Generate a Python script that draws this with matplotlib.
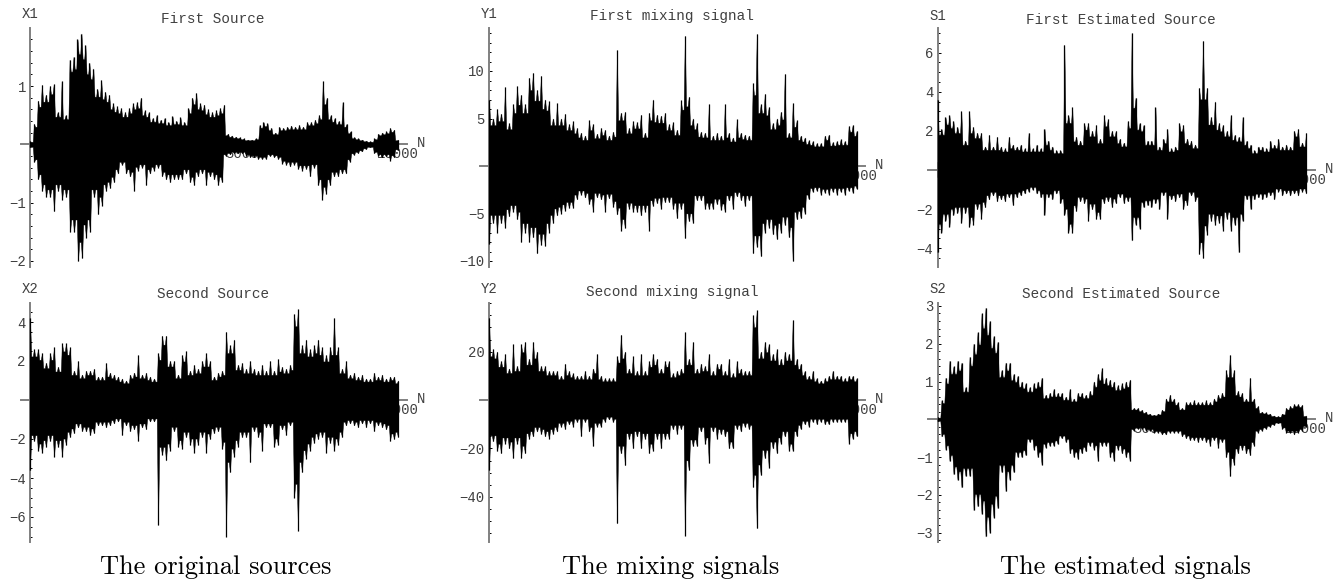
import numpy as np
import matplotlib
matplotlib.use("Agg")
import matplotlib.pyplot as plt
from matplotlib.ticker import MultipleLocator

x1_upper = [.05,.35,.75,1.02,.85,1.0,1.03,.55,1.08,.5,1.45,1.5,1.8,1.9,1.7,1.4,1.3,.95,1.1,.9,.85,.7,.65,.62,.55,.62,.7,.72,.8,.58,.55,.45,.5,.42,.45,.38,.48,.4,.46,.38,.62,.8,.88,.7,.68,.6,.55,.58,.62,.68,.18,.15,.13,.12,.1,.08,.08,.1,.33,.38,.36,.28,.2,.3,.28,.3,.32,.3,.33,.3,.38,.38,.42,.5,1.08,.8,.5,.45,.4,.72,.35,.22,.12,.1,.08,.06,.05,.1,.18,.2,.22,.28,.25,.08]
x1_lower = [-.05,-.3,-.6,-.8,-.9,-.9,-1.15,-.8,-.95,-.9,-1.5,-1.5,-2.0,-1.95,-1.6,-1.5,-.9,-1.2,-1.05,-.8,-.75,-.65,-.5,-.35,-.5,-.55,-.8,-.45,-.4,-.7,-.5,-.45,-.4,-.55,-.6,-.65,-.6,-.6,-.6,-.5,-.65,-.7,-.55,-.5,-.7,-.55,-.6,-.7,-.65,-.2,-.17,-.15,-.15,-.15,-.2,-.22,-.22,-.25,-.25,-.25,-.2,-.22,-.25,-.33,-.35,-.38,-.35,-.42,-.45,-.42,-.55,-.4,-.7,-.95,-.85,-.7,-.55,-.55,-.5,-.5,-.3,-.18,-.15,-.12,-.08,-.05,-.15,-.2,-.22,-.2,-.28,-.22,-.1]
x2_upper = [4.2,2.6,2.6,2.4,1.9,2.4,2.7,1.7,2.9,2.9,2.7,1.5,2.0,1.3,1.5,1.5,1.6,1.2,1.2,1.9,1.4,1.3,1.2,1.1,1.0,1.3,1.4,2.3,1.3,1.4,1.2,1.1,2.4,3.3,3.3,2.0,2.0,1.3,2.3,2.5,1.5,1.8,1.6,2.0,2.4,2.0,1.2,1.4,1.5,3.5,2.8,3.1,1.8,1.9,1.6,2.0,1.6,1.5,1.8,1.5,2.0,1.5,2.1,1.7,1.6,1.8,4.4,4.65,2.8,3.1,2.6,2.8,3.1,2.7,2.3,2.7,4.2,2.7,1.6,2.0,1.3,1.4,1.2,1.3,1.1,1.1,1.4,1.2,1.3,1.1,1.2,1.2,1.0]
x2_lower = [-3.6,-2.1,-2.6,-2.7,-2.4,-2.1,-2.9,-2.4,-2.9,-2.3,-1.9,-1.7,-1.4,-1.6,-1.6,-1.8,-1.7,-1.3,-1.3,-1.4,-1.3,-1.2,-1.1,-1.8,-1.3,-1.6,-1.5,-2.1,-1.4,-1.5,-1.1,-1.1,-6.4,-2.8,-3.1,-2.6,-1.6,-2.4,-2.5,-1.9,-2.3,-2.7,-2.3,-1.9,-2.7,-2.0,-1.7,-1.6,-2.5,-7.0,-3.7,-2.9,-2.4,-1.9,-1.9,-3.2,-1.6,-1.9,-2.6,-1.4,-1.4,-2.4,-2.3,-1.5,-1.8,-1.3,-5.0,-6.7,-3.7,-3.0,-2.6,-2.2,-2.0,-1.9,-2.7,-2.2,-2.6,-2.3,-1.9,-1.3,-1.2,-1.3,-1.4,-1.2,-1.4,-1.2,-1.6,-1.3,-1.4,-1.5,-2.1,-2.0,-1.9]
y1_upper = [7.0,5.0,6.0,5.5,8.3,4.5,6.5,8.4,7.5,6.5,9.3,9.8,8.0,9.5,7.0,6.8,5.0,6.6,5.0,5.5,4.4,4.7,4.0,3.5,3.2,4.8,4.4,3.4,4.0,3.8,3.2,3.6,12.2,5.6,5.7,4.0,4.7,4.6,5.4,3.5,5.6,7.0,5.4,5.3,5.6,4.4,4.6,3.8,6.9,13.7,7.3,5.0,4.5,3.6,3.5,6.5,3.2,3.5,3.2,6.5,3.5,3.0,4.9,3.5,3.3,3.2,8.7,13.9,6.5,7.6,6.2,4.5,5.0,5.7,9.7,3.5,6.6,4.8,3.2,3.0,2.7,2.6,2.4,2.4,3.2,3.3,2.5,2.6,2.8,2.6,4.2,4.3,3.7]
y1_lower = [-8.2,-6,-7,-6,-6.5,-5.3,-4.8,-5.6,-8,-7,-8,-7.5,-9.2,-8.3,-8.4,-7,-6,-5.2,-5,-4.7,-4.4,-4.4,-3.5,-3,-3.3,-4,-4.8,-3.3,-3.5,-4.8,-3.4,-4.3,-5.1,-6.8,-6.5,-4.5,-4.8,-4.8,-5.2,-4.8,-6.8,-4.2,-3.9,-4.5,-3.8,-3.8,-4.5,-5.5,-4.5,-7.6,-5.8,-6.0,-3.6,-3.6,-4.5,-4.5,-4.5,-4.0,-4.6,-4.8,-3.6,-4.5,-3.2,-3.6,-4.2,-3.6,-9.2,-8.5,-9.5,-7,-6.5,-7.2,-7.7,-7,-6.2,-7.5,-10,-5.6,-5.5,-5,-3.5,-2.7,-2.6,-3.0,-2.8,-3.0,-2.7,-3.0,-2.7,-3.0,-2.6,-2.8,-2.4]
y2_upper = [34,21,20,16,19,13,23,14,23,24,17,24,20,14,14,12,12,12,10,15,12,11,10,10,12,10,13,19,10,9,9,9,18,27,20,13,18,12,19,12,16,19,17,13,16,16,11,12,13,28,17,24,13,15,14,19,12,15,15,12,17,11,16,13,12,12,35,37,20,24,23,19,21,17,20,19,33,17,15,12,10,12,9,8,9,10,12,10,10,9,10,10,9]
y2_lower = [-29,-17,-21,-22,-18,-20,-24,-18,-24,-22,-16,-15,-13,-14,-15,-16,-14,-13,-11,-12,-10,-11,-9,-15,-9,-13,-19,-11,-11,-9,-8,-9,-51,-22,-27,-16,-20,-15,-20,-16,-22,-21,-16,-20,-16,-16,-12,-14,-12,-56,-29,-19,-19,-13,-18,-26,-13,-16,-14,-15,-20,-20,-12,-13,-11,-12,-36,-53,-31,-24,-28,-20,-22,-18,-15,-21,-21,-15,-12,-10,-11,-9,-10,-9,-10,-10,-9,-9,-9,-9,-18,-16,-15]
s1_upper = [3.6,2.1,2.7,2.8,2.5,2.2,3.0,1.5,3.0,2.2,1.9,1.9,1.2,1.8,1.2,1.7,1.2,1.1,1.7,1.3,1.2,1.3,1.1,1.9,1.1,1.3,1.1,2.1,1.5,1.2,1.0,1.0,6.4,2.8,3.2,1.7,1.5,2.4,2.4,2.0,2.3,1.6,2.8,2.6,2.0,2.0,1.6,1.4,2.5,7.0,3.7,2.4,2.3,1.5,1.5,3.2,1.2,1.6,2.1,1.1,1.2,2.4,2.3,1.6,1.5,1.3,4.2,6.6,4.2,2.7,3.5,2.4,2.3,2.0,2.8,1.8,1.7,2.7,1.5,1.3,1.0,1.2,1.2,1.1,1.5,1.3,1.6,1.2,1.3,1.2,2.0,2.1,1.4,1.9]
s1_lower = [-4.2,-3.2,-2.6,-2.9,-2.3,-2.2,-2.7,-2.2,-2.9,-2.8,-2.0,-2.5,-1.9,-1.5,-1.3,-1.6,-1.5,-1.6,-1.4,-1.8,-1.4,-1.3,-1.2,-1.1,-1.0,-1.2,-1.4,-2.3,-1.4,-1.5,-1.2,-1.7,-2.3,-3.2,-3.2,-2.1,-1.6,-1.7,-2.6,-2.0,-2.5,-2.5,-1.7,-1.6,-1.9,-1.7,-1.4,-1.7,-1.6,-3.6,-2.8,-3.0,-1.9,-1.8,-1.9,-1.7,-2.0,-1.3,-2.5,-1.5,-1.6,-1.4,-2.0,-1.8,-1.3,-1.6,-4.3,-4.5,-3.3,-2.6,-2.8,-2.7,-3.1,-2.5,-3.1,-2.8,-4.2,-2.6,-1.5,-2.0,-1.5,-1.4,-1.5,-1.4,-1.3,-1.5,-1.1,-1.3,-1.2,-1.3,-1.2,-1.3,-1.1,-1.2]
s2_upper = [.05,.5,1.1,1.55,1.4,1.55,1.5,.85,1.65,2.0,2.3,2.8,2.95,2.6,2.2,2.05,1.3,1.5,1.5,1.2,1.15,1.0,.95,.85,.95,1.0,1.1,.65,.7,.8,.7,.7,.6,.8,.55,.7,.7,.65,.75,1.0,1.2,1.35,1.1,1.05,1.0,.9,.95,1.0,1.05,.3,.3,.25,.2,.15,.12,.15,.25,.55,.65,.55,.45,.3,.45,.45,.5,.45,.45,.5,.45,.55,.65,.7,1.3,1.7,1.3,.75,.7,.55,1.1,.55,.35,.2,.18,.15,.1,.08,.15,.3,.35,.4,.4,.38,.1]
s2_lower = [-.05,-.45,-.8,-1.1,-1.45,-1.6,-1.8,-1.5,-1.5,-2.4,-2.3,-2.5,-3.1,-3.0,-2.6,-2.35,-1.4,-1.9,-1.6,-1.4,-1.0,-1.0,-.95,-.6,-.8,-1.0,-1.2,-.75,-.7,-.7,-.65,-.5,-.6,-.9,-1.0,-1.05,-.9,-.85,-.7,-.8,-1.1,-.7,-.7,-1.0,-1.1,-.8,-.9,-1.0,-1.1,-.3,-.25,-.25,-.3,-.3,-.35,-.35,-.4,-.4,-.35,-.35,-.35,-.45,-.5,-.55,-.55,-.6,-.55,-.6,-.7,-.55,-.75,-.6,-1.0,-1.5,-1.2,-.9,-.8,-.9,-.95,-.7,-.35,-.3,-.25,-.2,-.15,-.1,-.25,-.35,-.35,-.4,-.35,-.3,-.2]

titles = ["First Source", "Second Source", "First mixing signal", "Second mixing signal",
          "First Estimated Source", "Second Estimated Source"]
ylabels = ["X1", "X2", "Y1", "Y2", "S1", "S2"]
captions = ["The original sources", "The mixing signals", "The estimated signals"]
yticks = [[-2, -1, 1], [-6, -4, -2, 2, 4], [-10, -5, 5, 10], [-40, -20, 20], [-4, -2, 2, 4, 6], [-3, -2, -1, 1, 2, 3]]
minor_steps = [0.2, 0.5, 1, 5, 0.5, 0.2]
xtick_labels = ["5000", "10000"]
xtick_values = [5760, 10000]
n_samples = 10000
series = [(x1_upper, x1_lower), (x2_upper, x2_lower), (y1_upper, y1_lower),
          (y2_upper, y2_lower), (s1_upper, s1_lower), (s2_upper, s2_lower)]

W, H = 1343, 582
cols = [(21, 30, 398, 407), (480, 489, 856.7, 865), (928, 937.5, 1306, 1315)]
rows = [(28, 267), (303, 542)]
layout = [
    (0, 0, 144.3, 58.3, (213, 19), 14),
    (0, 1, 400.0, 19.5, (213, 294), 289),
    (1, 0, 166.0, 9.5, (672, 16), 14),
    (1, 1, 400.0, 2.42, (672, 292), 289),
    (2, 0, 170.0, 19.57, (1121, 20), 16),
    (2, 1, 419.3, 37.8, (1121, 294), 289),
]
caption_pos = [(216, 567), (671, 567), (1125, 567)]

MONO = "Liberation Mono"
TXT = "#404040"
fig = plt.figure(figsize=(W / 100, H / 100), dpi=100)


def draw_env(ax, env):
    env = np.asarray(env, dtype=float)
    xs = np.linspace(0, n_samples, len(env))
    step = xs[1] - xs[0]
    mag = np.abs(env)
    gaps = np.minimum(mag[:-1], mag[1:]) * 0.86 * np.sign(env[0])
    px, py = [xs[0]], [env[0]]
    for k in range(len(gaps)):
        px += [xs[k] + 0.3 * step, xs[k + 1] - 0.3 * step, xs[k + 1]]
        py += [gaps[k], gaps[k], env[k + 1]]
    px, py = np.array(px), np.array(py)
    ax.fill_between(px, -0.1 * py, py, color="black", lw=0.3, zorder=3)
    ax.vlines(xs, 0, env, color="black", lw=0.9, zorder=3)


for i, (cfg, (up, lo)) in enumerate(zip(layout, series)):
    c, r, zero, unit, tpos, ly = cfg
    xl, x0, xe, xr = cols[c]
    top, bot = rows[r]
    ax = fig.add_axes([xl / W, 1 - bot / H, (xr - xl) / W, (bot - top) / H])
    ax.patch.set_alpha(0)
    sx = (xe - x0) / n_samples
    ax.set_xlim((xl - x0) / sx, (xr - x0) / sx)
    ax.set_ylim((zero - bot) / unit, (zero - top) / unit)
    for s in ("top", "right"):
        ax.spines[s].set_visible(False)
    ax.spines["left"].set_position(("data", 0))
    ax.spines["bottom"].set_position(("data", 0))
    for s in ("left", "bottom"):
        ax.spines[s].set_color("#808080")
        ax.spines[s].set_linewidth(1.4)
    ax.set_axisbelow(True)
    ax.set_xticks(xtick_values)
    ax.set_xticklabels(xtick_labels, family=MONO, fontsize=10, color=TXT)
    ax.tick_params(axis="x", length=0, pad=2)
    ax.set_yticks(yticks[i])
    ax.set_yticklabels([str(v).replace("-", "\u2212") for v in yticks[i]], family=MONO, fontsize=10, color=TXT)
    ax.yaxis.set_minor_locator(MultipleLocator(minor_steps[i]))
    ax.tick_params(axis="y", which="major", direction="in", length=2.2, width=0.7, color="black", pad=3)
    ax.tick_params(axis="y", which="minor", direction="in", length=1.5, width=0.7, color="black")
    draw_env(ax, up)
    draw_env(ax, lo)
    fig.text(tpos[0] / W, 1 - tpos[1] / H, titles[i], family=MONO, fontsize=10.4, color=TXT, ha="center", va="center")
    fig.text(x0 / W, 1 - ly / H, ylabels[i], family=MONO, fontsize=10, color=TXT, ha="center", va="center")
    fig.text((xr + 14) / W, 1 - (zero - 1) / H, "N", family=MONO, fontsize=10, color=TXT, ha="center", va="center")

for (cx, cy), cap in zip(caption_pos, captions):
    fig.text(cx / W, 1 - cy / H, cap, family="cmr10", fontsize=19, color="black", ha="center", va="center")

fig.savefig("out.png", dpi=100)
